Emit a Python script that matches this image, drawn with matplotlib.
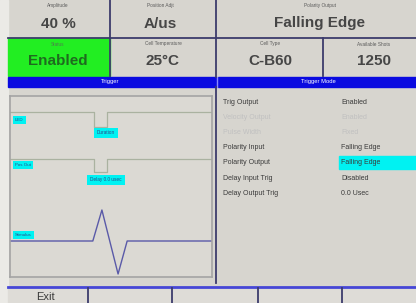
import matplotlib
matplotlib.use("Agg")
import matplotlib.pyplot as plt
from matplotlib.patches import Rectangle

plt.rcParams["font.family"] = ["Liberation Sans", "DejaVu Sans"]

# ---------------- data ----------------
top_labels = ["Amplitude", "Position Adjt", "Polarity Output"]
top_values = ["40 %", "A/us", "Falling Edge"]
mid_labels = ["Status", "Cell Temperature", "Cell Type", "Available Shots"]
mid_values = ["Enabled", "25°C", "C-B60", "1250"]
bar_titles = ["Trigger", "Trigger Mode"]

menu_labels = ["Trig Output", "Velocity Output", "Pulse Width", "Polarity Input",
               "Polarity Output", "Delay Input Trig", "Delay Output Trig"]
menu_values = ["Enabled", "Enabled", "Fixed", "Falling Edge",
               "Falling Edge", "Disabled", "0.0 Usec"]
menu_enabled = [True, False, False, True, True, True, True]
menu_selected = 4

# waveform traces (time 0..100, level in box units, 0 = top)
trace1_t = [0, 41.6, 41.6, 48.0, 48.0, 100]
trace1_y = [16, 16, 31, 31, 16, 16]
trace2_t = [0, 41.6, 41.6, 48.0, 48.0, 100]
trace2_y = [63, 63, 76, 76, 63, 63]
trace3_t = [0, 41.0, 45.5, 53.5, 58.0, 100]
trace3_y = [145, 145, 114, 178, 145, 145]
trace_labels = ["LED", "Pos Out", "Stimulus"]
trace_label_y = [24, 69, 139]
dip_labels = ["Duration", "Delay 0.0 usec"]
dip_label_y = [37, 84]

footer_labels = ["Exit", "", "", "", ""]

# ---------------- style ----------------
BG = "#d7d5cf"
LINE = "#3c3c6c"
BLUE = "#0a0ae0"
GREEN = "#22ee22"
CYAN = "#00f2f2"
TXT = "#3a3a3a"

W, H = 416, 303
fig = plt.figure(figsize=(W / 100, H / 100), dpi=100)
fig.patch.set_facecolor(BG)
ax = fig.add_axes([0, 0, 1, 1])
ax.set_xlim(0, W)
ax.set_ylim(H, 0)
ax.axis("off")

# left light strip
ax.add_patch(Rectangle((0, 0), 8, H, color="#ebeae6", zorder=1))
# green status cell
ax.add_patch(Rectangle((8, 38), 102, 38, color=GREEN, zorder=1))
# blue title bars
ax.add_patch(Rectangle((8, 77), 208, 9.5, color=BLUE, zorder=2))
ax.add_patch(Rectangle((217.5, 77), W - 217.5, 9.5, color=BLUE, zorder=2))
ax.plot([216.7, 216.7], [77, 86.5], color="#8a8aff", lw=1, zorder=3)
# footer
ax.add_patch(Rectangle((8, 287), W - 8, 16, color="#dedcd7", zorder=1))

# grid lines
kw = dict(color=LINE, lw=1.3, zorder=4)
ax.plot([8, W], [37.5, 37.5], **kw)
ax.plot([110, 110], [0, 76], **kw)
ax.plot([216, 216], [0, 77], **kw)
ax.plot([216, 216], [86.5, 283], **kw)
ax.plot([323, 323], [38, 76], **kw)
ax.plot([8, W], [287, 287], color="#4646d6", lw=2, zorder=4)
for xf in [88, 172, 258, 342]:
    ax.plot([xf, xf], [288, H], **kw)

# top row texts
top_cx = [58, 160, 320]
for cx, lab, val in zip(top_cx, top_labels, top_values):
    ax.text(cx, 6, lab, fontsize=3.4, color="#5a5a5a", ha="center", va="center", zorder=5)
    ax.text(cx, 23.5, val, fontsize=11, color="#464646", ha="center", va="center",
            fontweight="bold", zorder=5)
mid_cx = [58, 163, 270, 374]
for i, (cx, lab, val) in enumerate(zip(mid_cx, mid_labels, mid_values)):
    col = "#1f6a1f" if i == 0 else "#464646"
    ax.text(cx, 44, lab, fontsize=3.4, color="#4f7a4f" if i == 0 else "#5a5a5a",
            ha="center", va="center", zorder=5)
    ax.text(cx, 61, val, fontsize=11, color=col, ha="center", va="center",
            fontweight="bold", zorder=5)

ax.text(110, 81.5, bar_titles[0], fontsize=4.2, color="white", ha="center", va="center", zorder=5)
ax.text(318, 81.5, bar_titles[1], fontsize=4.2, color="white", ha="center", va="center", zorder=5)

# right menu
row_y0, row_dy = 102, 15.2
for i, (lab, val, en) in enumerate(zip(menu_labels, menu_values, menu_enabled)):
    y = row_y0 + i * row_dy
    col = TXT if en else "#c0c0c0"
    if i == menu_selected:
        ax.add_patch(Rectangle((339, y - 6.5), W - 339, 13, color=CYAN, zorder=3))
    ax.text(223, y, lab, fontsize=5, color=col, ha="left", va="center", zorder=5)
    ax.text(341, y, val, fontsize=5, color=col, ha="left", va="center", zorder=5)

# footer texts
for xc, lab in zip([45, 130, 215, 300, 379], footer_labels):
    if lab:
        ax.text(xc, 292, lab, fontsize=8, color="#3a3a3a", ha="center", va="top", zorder=5)

# ---------------- waveform box ----------------
bx0, by0, bx1, by1 = 10, 96, 212, 277
wax = fig.add_axes([bx0 / W, 1 - by1 / H, (bx1 - bx0) / W, (by1 - by0) / H])
wax.set_facecolor("#dbd9d3")
wax.set_xlim(0, 100)
wax.set_ylim(181, 0)
wax.set_xticks([])
wax.set_yticks([])
for s in wax.spines.values():
    s.set_color("#a4a4a4")
    s.set_linewidth(1.2)
wax.plot(trace1_t, trace1_y, color="#aab2a0", lw=0.9)
wax.plot(trace2_t, trace2_y, color="#aab2a0", lw=0.9)
wax.plot(trace3_t, trace3_y, color="#5a5aa8", lw=1.0)
for lab, y in zip(trace_labels, trace_label_y):
    wax.text(2.5, y, lab, fontsize=3.2, color="#2a4a8a", ha="left", va="center",
             bbox=dict(boxstyle="square,pad=0.5", fc=CYAN, ec="none"))
for lab, y in zip(dip_labels, dip_label_y):
    wax.text(47.5, y, lab, fontsize=3.4, color="#2a4a8a", ha="center", va="center",
             bbox=dict(boxstyle="square,pad=0.6", fc=CYAN, ec="none"))

fig.savefig("out.png", dpi=100, facecolor=BG)
